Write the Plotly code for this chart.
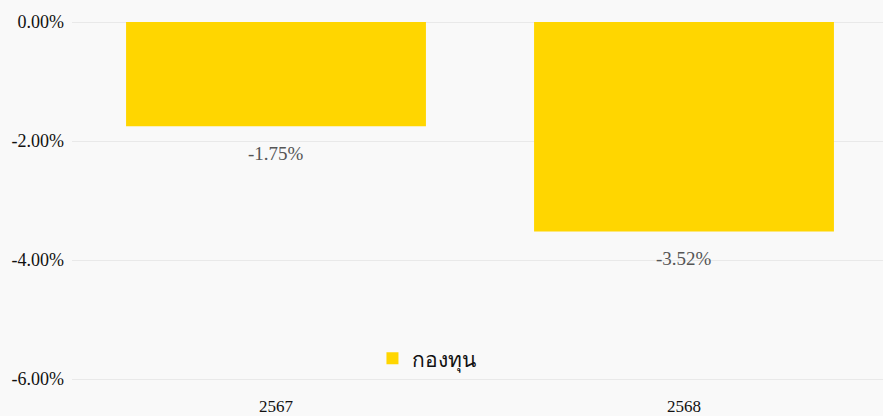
import plotly.graph_objects as go

categories = ["2567", "2568"]
fund_values = [-1.75, -3.52]
fund_labels = ["-1.75%", "-3.52%"]
series_name = "กองทุน"
tick_values = [0, -2, -4, -6]
tick_labels = ["0.00%", "-2.00%", "-4.00%", "-6.00%"]

fig = go.Figure()
fig.add_trace(go.Bar(
    x=categories,
    y=fund_values,
    name=series_name,
    marker=dict(color="#FFD600", line=dict(width=0)),
))

for i, (val, lab) in enumerate(zip(fund_values, fund_labels)):
    fig.add_annotation(
        x=i, y=val, xref="x", yref="y", text=lab, showarrow=False,
        yanchor="middle", yshift=-27,
        font=dict(family="Liberation Serif", size=19, color="#555555"),
    )

fig.update_layout(
    width=888,
    height=416,
    margin=dict(l=72, r=0, t=22, b=18),
    paper_bgcolor="#f9f9f9",
    plot_bgcolor="#f9f9f9",
    bargap=0.265,
    showlegend=True,
    legend=dict(
        orientation="h",
        x=0.435, xanchor="center",
        y=0.095, yanchor="middle",
        bgcolor="rgba(0,0,0,0)",
        itemwidth=30,
        font=dict(family="Noto Sans, sans-serif", size=21, color="#111111"),
    ),
    xaxis=dict(
        type="category",
        range=[-0.5, 1.5],
        showgrid=False,
        showline=False,
        ticks="",
        tickfont=dict(family="Liberation Serif", size=17, color="#111111"),
    ),
    yaxis=dict(
        range=[-6.25, 0],
        tickvals=tick_values,
        ticktext=tick_labels,
        showgrid=True,
        gridcolor="#e9e9e9",
        gridwidth=1,
        zeroline=True,
        zerolinecolor="#e9e9e9",
        zerolinewidth=1,
        showline=False,
        ticks="",
        ticklen=0,
        ticklabelstandoff=7,
        tickfont=dict(family="Liberation Serif", size=18, color="#111111"),
    ),
)

fig.write_html(
    "out.html",
    config={"displayModeBar": False},
    post_script="document.body.style.margin='0px';document.body.style.overflow='hidden';",
)
